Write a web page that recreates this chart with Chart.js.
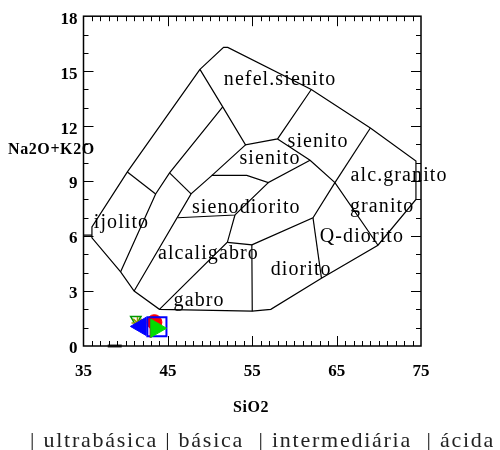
<!DOCTYPE html>
<html>
<head>
<meta charset="utf-8">
<script src="https://cdn.jsdelivr.net/npm/chart.js@4.4.0/dist/chart.umd.min.js"></script>
<style>
  html, body { margin: 0; padding: 0; background: #fff; }
</style>
</head>
<body>
<canvas id="tas" width="500" height="450"></canvas>
<script>
// axis ranges and tick labels
const xMin = 35, xMax = 75, yMin = 0, yMax = 18;
const xTicks = [35, 45, 55, 65, 75];
const yTicks = [0, 3, 6, 9, 12, 15, 18];

// field boundaries, [SiO2, Na2O+K2O]
const outline = [[48.8,15.1],[51.6,16.3],[52.1,16.3],[62.0,14.0],[69.0,11.9],[74.4,10.1],[74.4,8.0],
  [69.9,5.5],[63.2,3.7],[57.2,2.0],[55.0,1.9],[44.0,2.0],[41.0,3.0],[39.4,4.05],[36.0,5.9],[36.0,6.5],
  [40.2,9.5],[48.8,15.1]];
const leftStub = [[35.0,6.05],[36.0,6.05]];
const line1 = [[39.4,4.05],[43.55,8.3],[45.2,9.45],[51.5,13.05]];
const line1b = [[40.2,9.5],[43.55,8.3]];
const line2 = [[41.0,3.0],[47.75,8.3],[50.2,9.3],[54.2,10.98]];
const line2b = [[45.2,9.45],[47.75,8.3]];
const ridge = [[48.8,15.1],[51.5,13.05],[54.2,10.98],[58.0,11.3],[62.0,14.0]];
const syenite = [[58.0,11.3],[61.85,10.14],[64.8,8.92],[69.9,5.5]];
const syeniteB = [[64.8,8.92],[69.0,11.9]];
const syeniteC = [[61.85,10.14],[56.9,8.92],[54.35,9.31],[50.2,9.31]];
const syenodiorite = [[46.15,7.0],[52.95,7.15],[56.9,8.92]];
const gabbro = [[44.0,2.0],[52.05,5.66],[52.95,7.15]];
const diorite = [[55.0,1.9],[54.95,5.52],[52.05,5.66]];
const dioriteB = [[54.95,5.52],[62.2,7.0],[64.8,8.92]];
const dioriteC = [[62.2,7.0],[63.2,3.7]];
const boundaries = [outline, leftStub, line1, line1b, line2, line2b, ridge, syenite, syeniteB,
  syeniteC, syenodiorite, gabbro, diorite, dioriteB, dioriteC];

// field names
const fieldNames = ['nefel.sienito', 'sienito', 'sienito', 'alc.granito', 'granito', 'Q-diorito',
  'diorito', 'sienodiorito', 'alcaligabro', 'gabro', 'ijolito'];
const fieldX = [58.3, 62.8, 57.1, 72.4, 70.4, 68.0, 60.8, 54.3, 49.8, 48.7, 39.5];
const fieldY = [14.24, 10.85, 9.96, 9.01, 7.31, 5.7, 3.85, 7.27, 4.75, 2.17, 6.45];

// samples
const sampleGreenDown = [[41.2, 1.45]];
const sampleOlive = [[41.4, 1.25]];
const sampleBlueLeft = [[41.8, 1.07]];
const sampleRed = [[43.4, 1.3]];
const sampleBlueSquare = [[43.7, 1.05]];
const samplePurple = [[42.95, 1.0]];
const sampleGreenRight = [[43.6, 0.97]];
const sampleBlack = [[38.7, 0.0]];

const bottomText = '| ultrabásica | básica  | intermediária  | ácida';

const pts = a => a.map(p => ({x: p[0], y: p[1]}));

const lineSets = boundaries.map(b => ({
  data: pts(b),
  showLine: true,
  borderColor: '#000',
  borderWidth: 1.2,
  pointRadius: 0,
  order: 10
}));

const sampleSets = [
  {data: pts(sampleGreenRight), pointStyle: 'triangle', rotation: 90, radius: 10.5,
    backgroundColor: '#00dd00', borderColor: '#00dd00', order: 1},
  {data: pts(samplePurple), pointStyle: 'line', rotation: 90, radius: 10,
    borderColor: '#99004c', borderWidth: 2, order: 2},
  {data: pts(sampleBlueSquare), pointStyle: 'rect', radius: 13.5,
    backgroundColor: 'rgba(0,0,0,0)', borderColor: '#0000ff', borderWidth: 2, order: 3},
  {data: pts(sampleRed), pointStyle: 'circle', radius: 7.5,
    backgroundColor: '#ff0000', borderColor: '#ff0000', order: 4},
  {data: pts(sampleBlueLeft), pointStyle: 'triangle', rotation: -90, radius: 10.5,
    backgroundColor: '#0000ff', borderColor: '#0000ff', order: 5},
  {data: pts(sampleOlive), pointStyle: 'star', radius: 6,
    borderColor: '#999900', borderWidth: 1.5, order: 6},
  {data: pts(sampleGreenDown), pointStyle: 'triangle', rotation: 180, radius: 6,
    backgroundColor: 'rgba(0,0,0,0)', borderColor: '#009900', borderWidth: 1.5, order: 7},
  {data: pts(sampleBlack), pointStyle: 'line', radius: 7, clip: false,
    borderColor: '#333', borderWidth: 3, order: 8}
];

const serif = '"Liberation Serif", "Times New Roman", serif';

const decor = {
  id: 'decor',
  afterDatasetsDraw(chart) {
    const {ctx, chartArea: a, scales: {x, y}} = chart;
    ctx.save();
    ctx.strokeStyle = '#000';
    ctx.lineWidth = 1.5;
    ctx.strokeRect(a.left, a.top, a.right - a.left, a.bottom - a.top);

    // inward ticks on all four sides
    ctx.lineWidth = 1;
    ctx.beginPath();
    for (let v = xMin + 1; v < xMax; v++) {
      const px = Math.round(x.getPixelForValue(v)) + 0.5;
      const len = (v - xMin) % 10 === 0 ? 10 : 5;
      ctx.moveTo(px, a.bottom); ctx.lineTo(px, a.bottom - len);
      ctx.moveTo(px, a.top); ctx.lineTo(px, a.top + len);
    }
    for (let v = yMin + 1; v < yMax; v++) {
      const py = Math.round(y.getPixelForValue(v)) + 0.5;
      const len = v % 3 === 0 ? 10 : 5;
      ctx.moveTo(a.left, py); ctx.lineTo(a.left + len, py);
      ctx.moveTo(a.right, py); ctx.lineTo(a.right - len, py);
    }
    ctx.stroke();

    // field names
    ctx.fillStyle = '#000';
    ctx.font = '20px ' + serif;
    ctx.letterSpacing = '1.1px';
    ctx.textAlign = 'center';
    ctx.textBaseline = 'alphabetic';
    fieldNames.forEach((t, i) => {
      ctx.fillText(t, x.getPixelForValue(fieldX[i]), y.getPixelForValue(fieldY[i]));
    });

    // axis titles
    ctx.font = 'bold 16px ' + serif;
    ctx.letterSpacing = '0.6px';
    ctx.textAlign = 'left';
    ctx.fillText('Na2O+K2O', 8, 154);
    ctx.textAlign = 'center';
    ctx.fillText('SiO2', 251, 412);

    // rock class line
    ctx.fillStyle = '#222';
    ctx.font = '22px ' + serif;
    ctx.letterSpacing = '1.75px';
    ctx.textAlign = 'left';
    ctx.fillText(bottomText, 30, 447);
    ctx.letterSpacing = '0px';
    ctx.restore();
  }
};

new Chart(document.getElementById('tas'), {
  type: 'scatter',
  data: {datasets: lineSets.concat(sampleSets)},
  options: {
    responsive: false,
    animation: false,
    layout: {padding: {top: 11, right: 79, left: 0, bottom: 0}},
    plugins: {legend: {display: false}, tooltip: {enabled: false}},
    scales: {
      x: {
        type: 'linear', min: xMin, max: xMax,
        afterBuildTicks: s => { s.ticks = xTicks.map(v => ({value: v})); },
        afterFit: s => { s.height = 104; },
        grid: {display: false, drawTicks: false},
        border: {display: false},
        ticks: {color: '#000', padding: 15, maxRotation: 0,
          font: {family: serif, size: 17, weight: 'bold'}}
      },
      y: {
        type: 'linear', min: yMin, max: yMax,
        afterBuildTicks: s => { s.ticks = yTicks.map(v => ({value: v})); },
        afterFit: s => { s.width = 83.5; },
        grid: {display: false, drawTicks: false},
        border: {display: false},
        ticks: {color: '#000', padding: 6, labelOffset: 3,
          font: {family: serif, size: 17, weight: 'bold'}}
      }
    }
  },
  plugins: [decor]
});
</script>
</body>
</html>
